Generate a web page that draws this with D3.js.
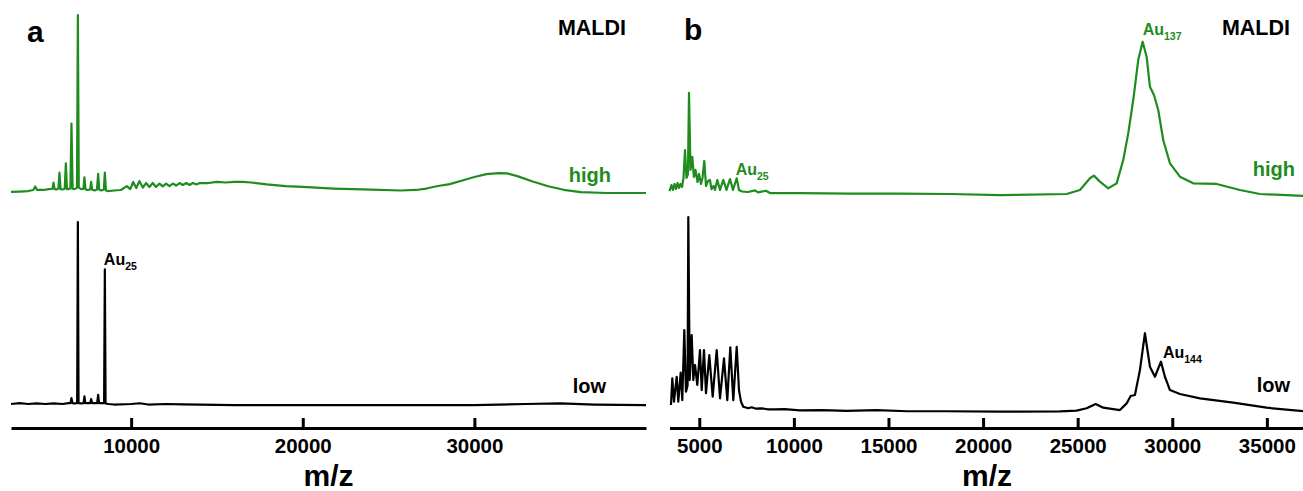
<!DOCTYPE html>
<html>
<head>
<meta charset="utf-8">
<script src="https://d3js.org/d3.v7.min.js"></script>
<style>
  body { margin: 0; background: #fff; }
  svg text { font-family: "Liberation Sans", Arial, sans-serif; font-weight: bold; }
</style>
</head>
<body>
<div id="content"></div>
<script>
// spectra as [m/z, intensity] ; intensity in a.u. (100 = tallest peak of the trace)
const spectrumAHigh = [
  [3000,0.6],[3500,0.8],[4000,1.1],[4300,1.7],[4409,3.7],[4520,1.7],[4900,1.7],[5200,2.2],
  [5420,2.4],[5475,5.8],[5540,2.2],[5650,2.0],[5760,2.4],[5824,11.4],[5890,2.2],[6010,2.0],
  [6130,2.4],[6197,16.7],[6260,2.2],[6360,2.2],[6460,2.6],[6523,39.0],[6590,2.4],[6710,2.2],
  [6845,3.0],[6896,100],[6950,3.0],[7090,2.2],[7220,2.4],[7280,8.8],[7340,2.0],[7475,1.7],
  [7610,2.0],[7670,6.3],[7730,1.8],[7870,1.4],[8010,2.0],[8078,10.7],[8140,1.8],[8270,1.4],
  [8410,2.0],[8468,11.5],[8530,1.4],[8650,1.1],[9000,1.4],[9400,1.7],[9750,3.9],[9950,2.2],
  [10120,6.2],[10300,2.8],[10480,6.7],[10680,3.1],[10870,5.6],[11060,3.4],[11260,5.6],[11450,3.4],
  [11650,5.3],[11840,3.7],[12040,5.3],[12230,3.9],[12430,5.3],[12620,4.2],[12820,5.6],[13010,4.5],
  [13210,5.6],[13400,4.5],[13600,5.6],[13800,4.8],[14000,5.6],[14500,5.6],[15000,6.2],[15500,5.9],
  [16000,6.2],[16500,6.2],[17000,5.9],[17900,4.8],[19000,3.9],[20000,3.4],[21800,2.5],[23500,2.0],
  [25700,1.4],[26600,1.7],[27200,2.5],[27800,3.8],[28560,5.0],[29300,7.0],[30000,9.0],[30700,10.6],
  [31400,11.2],[31900,11.0],[32500,9.5],[33400,6.5],[34300,3.8],[35200,1.8],[36200,0.5],[37700,0],
  [40000,0]
];

const spectrumALow = [
  [3000,1.1],[3500,1.6],[4000,1.1],[4500,1.4],[5000,1.1],[5500,1.4],[6000,1.1],[6350,1.6],
  [6470,1.6],[6523,4.3],[6580,1.6],[6700,1.4],[6855,1.6],[6896,100],[6935,1.6],[7090,1.4],
  [7230,1.6],[7280,5.2],[7330,1.6],[7475,1.6],[7620,1.6],[7670,3.8],[7720,1.6],[7870,1.6],
  [8020,1.6],[8078,6.0],[8130,1.6],[8270,1.6],[8425,1.6],[8468,74.3],[8510,1.4],[8660,1.1],
  [9000,0.8],[10000,1.1],[10500,1.5],[11000,0.8],[12000,1.1],[13000,0.9],[14000,0.8],[16000,0.5],
  [20000,0.5],[25000,0.5],[30000,0.5],[33000,1.1],[35000,1.4],[37000,0.8],[40000,0.5]
];

const spectrumBHigh = [
  [3425,3.2],[3531,7.1],[3610,3.9],[3689,7.8],[3769,4.5],[3848,8.4],[3927,5.2],[4006,7.8],
  [4086,5.8],[4165,11.7],[4244,29.8],[4324,11.7],[4400,14.0],[4456,66.8],[4535,16.9],[4630,25.3],
  [4715,12.3],[4799,16.9],[4905,9.1],[4984,14.3],[5090,7.8],[5169,11.7],[5264,22.7],[5354,6.5],
  [5459,9.7],[5565,10.4],[5645,4.5],[5750,6.5],[5830,3.9],[5951,10.4],[6094,3.9],[6268,10.4],
  [6438,3.9],[6622,11.0],[6781,3.9],[6977,11.5],[7098,3.9],[7257,2.9],[7574,2.6],[7944,3.6],
  [8102,2.3],[8525,3.4],[8737,1.9],[10322,1.9],[12965,1.6],[15607,1.6],[18250,1.3],[20892,0.6],
  [24417,1.3],[25120,3.9],[25649,11.5],[25860,13.2],[26177,9.3],[26616,5.0],[27060,8.2],[27408,23.3],
  [27673,40.6],[27937,62.2],[28201,88.1],[28434,100],[28645,90.3],[28820,70.8],[29031,65.5],[29258,55.7],
  [29523,36.3],[29877,21.2],[30405,12.5],[31108,8.2],[32345,7.8],[33576,3.9],[34633,1.3],[37000,0]
];

const spectrumBLow = [
  [3504,4.1],[3573,17.7],[3663,5.8],[3806,18.5],[3890,5.8],[4017,20.6],[4102,6.6],[4207,42.3],
  [4297,10.9],[4380,14.0],[4419,100],[4493,16.8],[4598,39.8],[4683,16.8],[4773,24.5],[4894,14.3],
  [5037,32.1],[5127,11.7],[5248,32.1],[5354,10.1],[5529,29.6],[5708,8.3],[5920,32.1],[6094,7.5],
  [6305,27.9],[6480,6.6],[6638,33.5],[6797,6.6],[6977,33.8],[7098,11.7],[7204,5.8],[7325,3.2],
  [7590,2.4],[7769,2.9],[8000,2.2],[8298,2.4],[8600,1.9],[9001,1.9],[9500,2.0],[10322,1.3],
  [11500,1.5],[12800,1.1],[14375,1.5],[16000,0.9],[18000,0.9],[20892,0.7],[24063,0.8],[24946,1.2],
  [25474,2.4],[25950,4.6],[26351,2.7],[27234,1.5],[27588,4.9],[27799,8.7],[28027,9.2],[28291,21.9],
  [28555,40.7],[28820,23.6],[29084,18.5],[29401,26.2],[29612,18.5],[29877,11.7],[30405,9.7],[31462,7.5],
  [33222,5.3],[34987,2.7],[37000,0.9]
];

const ticksA = [10000, 20000, 30000];
const ticksB = [5000, 10000, 15000, 20000, 25000, 30000, 35000];

// peak labels: cluster name, subscript, m/z, intensity, which trace
const peaksA = [ { name: "Au", sub: "25", mz: 8468, int: 74.3, trace: "low" } ];
const peaksB = [
  { name: "Au", sub: "25",  mz: 6977,  int: 11.5, trace: "high" },
  { name: "Au", sub: "137", mz: 28434, int: 100,  trace: "high" },
  { name: "Au", sub: "144", mz: 29401, int: 26.2, trace: "low" }
];

const green = "#1e8c1e";
const width = 1303, height = 491;

const svg = d3.select("#content").append("svg")
  .attr("width", width)
  .attr("height", height);

const panels = [
  { letter: "a", letterX: 27, letterY: 42, domain: [3000, 40000], range: [11, 646], ticks: ticksA,
    high: spectrumAHigh, low: spectrumALow, highY: [193, 15], lowY: [406, 222],
    highTagX: 611, lowTagX: 606, maldiX: 626, highTagY: 182, lowTagY: 393, peaks: peaksA,
    offsets: [[-1, -4]] },
  { letter: "b", letterX: 684, letterY: 40, domain: [3425, 37000], range: [669.5, 1304.7], ticks: ticksB,
    high: spectrumBHigh, low: spectrumBLow, highY: [196, 41.7], lowY: [413, 217],
    highTagX: 1295, lowTagX: 1290, maldiX: 1290, highTagY: 176, lowTagY: 392, peaks: peaksB,
    offsets: [[-1, -3], [0, -7], [2, -4]] }
];

const axisY = 428;

panels.forEach(function(p) {
  const x = d3.scaleLinear().domain(p.domain).range(p.range);
  const yHigh = d3.scaleLinear().domain([0, 100]).range(p.highY);
  const yLow = d3.scaleLinear().domain([0, 100]).range(p.lowY);
  const g = svg.append("g");

  const lineHigh = d3.line().x(d => x(d[0])).y(d => yHigh(d[1]));
  const lineLow = d3.line().x(d => x(d[0])).y(d => yLow(d[1]));

  g.append("path").datum(p.high)
    .attr("d", lineHigh)
    .attr("fill", "none").attr("stroke", green)
    .attr("stroke-width", 2.2).attr("stroke-linejoin", "round");

  g.append("path").datum(p.low)
    .attr("d", lineLow)
    .attr("fill", "none").attr("stroke", "#000")
    .attr("stroke-width", 2.2).attr("stroke-linejoin", "round");

  // x axis, ticks pointing up
  const axis = g.append("g")
    .attr("transform", `translate(0,${axisY})`)
    .call(d3.axisBottom(x).tickValues(p.ticks).tickFormat(d3.format("d"))
      .tickSize(-10).tickSizeOuter(0).tickPadding(11));
  axis.select(".domain").attr("stroke", "#000").attr("stroke-width", 2.8);
  axis.selectAll(".tick line").attr("stroke", "#000").attr("stroke-width", 3);
  axis.selectAll(".tick text")
    .attr("fill", "#000")
    .style("font-size", "20.5px")
    .attr("y", 10);

  g.append("text")
    .attr("x", (p.range[0] + p.range[1]) / 2)
    .attr("y", 486)
    .attr("text-anchor", "middle")
    .style("font-size", "30px")
    .text("m/z");

  g.append("text")
    .attr("x", p.letterX).attr("y", p.letterY)
    .style("font-size", "30px")
    .text(p.letter);

  g.append("text")
    .attr("x", p.maldiX).attr("y", 35)
    .attr("text-anchor", "end")
    .style("font-size", "21.5px")
    .text("MALDI");

  g.append("text")
    .attr("x", p.highTagX).attr("y", p.highTagY)
    .attr("text-anchor", "end")
    .attr("fill", green)
    .style("font-size", "20px")
    .text("high");

  g.append("text")
    .attr("x", p.lowTagX).attr("y", p.lowTagY)
    .attr("text-anchor", "end")
    .style("font-size", "20px")
    .text("low");

  p.peaks.forEach(function(pk, i) {
    const ys = pk.trace === "high" ? yHigh : yLow;
    const off = p.offsets[i];
    const t = g.append("text")
      .attr("x", x(pk.mz) + off[0])
      .attr("y", ys(pk.int) + off[1])
      .attr("fill", pk.trace === "high" ? green : "#000")
      .style("font-size", "16px");
    t.append("tspan").text(pk.name);
    t.append("tspan").attr("dy", 5).style("font-size", "10.5px").text(pk.sub);
  });
});
</script>
</body>
</html>
